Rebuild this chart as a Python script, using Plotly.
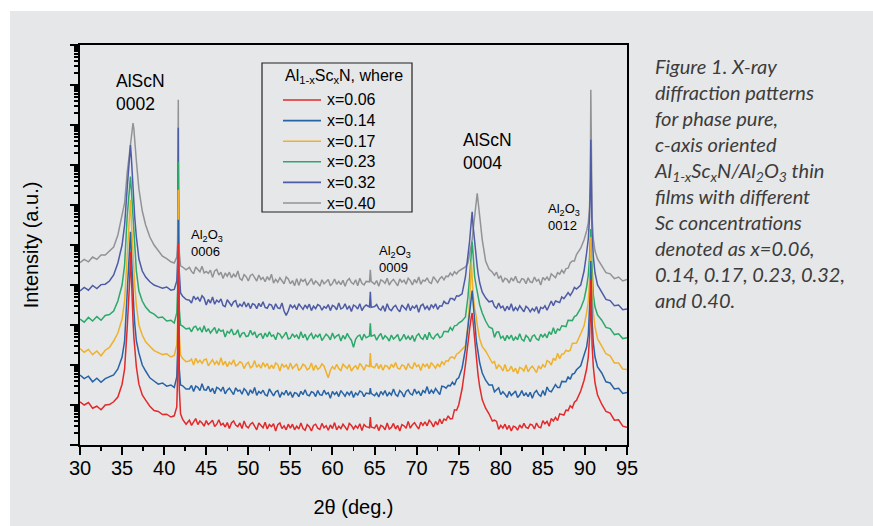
import numpy as np
import plotly.graph_objects as go

# 2-theta sampling positions (deg.)
two_theta = [
    30.0, 30.5, 31.0, 31.5, 32.0, 32.5, 33.0, 33.5,
    34.0, 34.5, 35.0, 35.3, 35.6, 35.8, 35.9, 36.0, 36.1, 36.2, 36.3, 36.4, 36.5, 36.7, 37.0, 37.4, 37.8, 38.3,
    38.8, 39.3, 39.8, 40.3, 40.8, 41.2,
    41.5, 41.6, 41.68, 41.72, 41.8, 41.95,
    42.2, 42.6,
    43.0, 43.25, 43.5, 43.75, 44.0, 44.25, 44.5, 44.75,
    45.0, 45.25, 45.5, 45.75, 46.0, 46.25, 46.5, 46.75,
    47.0, 47.25, 47.5, 47.75, 48.0, 48.25, 48.5, 48.75,
    49.0, 49.25, 49.5, 49.75, 50.0, 50.25, 50.5, 50.75,
    51.0, 51.25, 51.5, 51.75, 52.0, 52.25, 52.5, 52.75,
    53.0, 53.25, 53.5, 53.75, 54.0, 54.25, 54.5, 54.75,
    55.0, 55.25, 55.5, 55.75, 56.0, 56.25, 56.5, 56.75,
    57.0, 57.25, 57.5, 57.75, 58.0, 58.25, 58.5, 58.75,
    59.0, 59.25, 59.5, 59.75, 60.0, 60.25, 60.5, 60.75,
    61.0, 61.25, 61.5, 61.75, 62.0, 62.25, 62.5, 62.75,
    63.0, 63.25, 63.5, 63.75, 64.0,
    64.4, 64.5, 64.6,
    65.0, 65.25, 65.5, 65.75, 66.0, 66.25, 66.5, 66.75,
    67.0, 67.25, 67.5, 67.75, 68.0, 68.25, 68.5, 68.75,
    69.0, 69.25, 69.5, 69.75, 70.0, 70.25, 70.5, 70.75,
    71.0, 71.25, 71.5, 71.75, 72.0, 72.25, 72.5, 72.75,
    73.0, 73.25, 73.5, 73.75, 74.0, 74.25, 74.5, 74.75,
    75.0, 75.4, 75.8, 76.1, 76.3, 76.5, 76.6, 76.7, 76.9, 77.1, 77.2, 77.3, 77.5, 77.8, 78.2, 78.6,
    79.0, 79.25, 79.5, 79.75, 80.0, 80.25, 80.5, 80.75,
    81.0, 81.25, 81.5, 81.75, 82.0, 82.25, 82.5, 82.75,
    83.0, 83.25, 83.5, 83.75, 84.0, 84.25, 84.5, 84.75,
    85.0, 85.25, 85.5, 85.75, 86.0, 86.25, 86.5, 86.75,
    87.0, 87.25, 87.5, 87.75, 88.0, 88.25, 88.5, 88.75,
    89.0,
    89.5, 89.9, 90.2, 90.4, 90.55, 90.65, 90.7, 90.75, 90.85, 91.0, 91.2, 91.5,
    92.0, 92.5, 93.0, 93.5, 94.0, 94.5, 95.0,
]

# log10 of the (offset) intensity of each pattern
log_I_006 = [
    1.08, 1.00, 1.06, 0.92, 0.97, 0.88, 1.00, 1.01,
    1.08, 1.20, 1.52, 1.90, 2.90, 3.60, 4.10, 4.83, 4.10, 3.50, 3.10, 2.70, 2.40, 1.95, 1.52, 1.25, 1.12, 0.97,
    0.86, 0.84, 0.76, 0.77, 0.70, 0.73,
    0.95, 1.75, 5.03, 1.80, 1.40, 0.78,
    0.64, 0.52,
    0.62, 0.49, 0.59, 0.66, 0.51, 0.60, 0.55, 0.47,
    0.61, 0.51, 0.56, 0.62, 0.46, 0.52, 0.63, 0.50,
    0.54, 0.45, 0.56, 0.41, 0.55, 0.60, 0.50, 0.46,
    0.55, 0.41, 0.60, 0.47, 0.43, 0.52, 0.56, 0.46,
    0.38, 0.55, 0.49, 0.43, 0.57, 0.40, 0.51, 0.46,
    0.53, 0.35, 0.51, 0.55, 0.41, 0.48, 0.38, 0.52,
    0.42, 0.52, 0.38, 0.47, 0.40, 0.55, 0.41, 0.37,
    0.51, 0.46, 0.35, 0.49, 0.52, 0.42, 0.39, 0.54,
    0.43, 0.48, 0.37, 0.50, 0.41, 0.56, 0.38, 0.47,
    0.41, 0.52, 0.45, 0.37, 0.54, 0.49, 0.40, 0.48,
    0.42, 0.53, 0.36, 0.51, 0.46,
    0.43, 0.70, 0.45,
    0.42, 0.51, 0.36, 0.49, 0.46, 0.38, 0.55, 0.40,
    0.44, 0.54, 0.40, 0.49, 0.35, 0.51, 0.48, 0.42,
    0.59, 0.42, 0.51, 0.56, 0.47, 0.40, 0.57, 0.49,
    0.58, 0.48, 0.62, 0.56, 0.45, 0.59, 0.50, 0.65,
    0.53, 0.65, 0.62, 0.73, 0.65, 0.66, 0.88, 0.87,
    1.00, 1.40, 2.00, 2.60, 2.90, 3.20, 3.30, 3.10, 2.60, 2.15, 1.95, 1.75, 1.45, 1.13, 0.92, 0.78,
    0.60, 0.62, 0.59, 0.39, 0.49, 0.42, 0.52, 0.39,
    0.49, 0.35, 0.47, 0.45, 0.37, 0.50, 0.42, 0.54,
    0.44, 0.42, 0.52, 0.50, 0.40, 0.55, 0.45, 0.43,
    0.61, 0.53, 0.59, 0.47, 0.66, 0.60, 0.69, 0.61,
    0.78, 0.76, 0.75, 0.87, 0.86, 0.98, 0.93, 1.07,
    1.12,
    1.35, 1.62, 1.90, 2.20, 2.70, 3.30, 4.15, 3.20, 2.50, 1.95, 1.55, 1.25,
    1.02, 0.84, 0.80, 0.62, 0.63, 0.47, 0.44,
]

log_I_014 = [
    1.75, 1.66, 1.72, 1.58, 1.67, 1.57, 1.66, 1.70,
    1.75, 1.90, 2.20, 2.60, 3.80, 4.40, 4.80, 5.33, 4.80, 4.20, 3.80, 3.40, 3.05, 2.60, 2.30, 2.00, 1.85, 1.68,
    1.60, 1.52, 1.55, 1.47, 1.50, 1.44,
    1.70, 2.33, 5.63, 2.33, 1.90, 1.50,
    1.48, 1.40,
    1.40, 1.49, 1.34, 1.47, 1.44, 1.36, 1.53, 1.38,
    1.37, 1.47, 1.33, 1.42, 1.28, 1.44, 1.41, 1.35,
    1.45, 1.28, 1.37, 1.42, 1.33, 1.26, 1.43, 1.35,
    1.37, 1.27, 1.41, 1.35, 1.24, 1.38, 1.29, 1.44,
    1.24, 1.34, 1.29, 1.37, 1.26, 1.23, 1.40, 1.32,
    1.23, 1.33, 1.36, 1.19, 1.31, 1.26, 1.37, 1.24,
    1.33, 1.19, 1.31, 1.29, 1.21, 1.34, 1.26, 1.38,
    1.25, 1.23, 1.33, 1.31, 1.21, 1.36, 1.26, 1.24,
    1.37, 1.27, 1.31, 1.17, 1.34, 1.26, 1.32, 1.21,
    1.36, 1.29, 1.22, 1.33, 1.25, 1.35, 1.19, 1.30,
    1.25, 1.35, 1.32, 1.21, 1.30,
    1.28, 1.42, 1.29,
    1.23, 1.30, 1.20, 1.34, 1.26, 1.36, 1.22, 1.31,
    1.25, 1.40, 1.26, 1.22, 1.36, 1.31, 1.20, 1.34,
    1.38, 1.28, 1.25, 1.40, 1.29, 1.34, 1.23, 1.36,
    1.31, 1.46, 1.28, 1.37, 1.30, 1.41, 1.34, 1.26,
    1.47, 1.46, 1.42, 1.49, 1.48, 1.57, 1.50, 1.64,
    1.68, 1.92, 2.40, 2.95, 3.30, 3.75, 3.86, 3.60, 3.00, 2.60, 2.46, 2.30, 2.05, 1.80, 1.62, 1.50,
    1.50, 1.33, 1.39, 1.43, 1.26, 1.33, 1.27, 1.19,
    1.34, 1.24, 1.29, 1.35, 1.19, 1.25, 1.36, 1.23,
    1.30, 1.21, 1.32, 1.17, 1.31, 1.36, 1.26, 1.22,
    1.36, 1.24, 1.45, 1.35, 1.33, 1.44, 1.51, 1.44,
    1.44, 1.59, 1.58, 1.58, 1.71, 1.64, 1.77, 1.79,
    1.88,
    1.98, 2.25, 2.45, 2.75, 3.30, 3.90, 4.60, 3.80, 3.10, 2.55, 2.20, 1.95,
    1.80, 1.58, 1.55, 1.40, 1.42, 1.29, 1.31,
]

log_I_017 = [
    2.41, 2.32, 2.39, 2.26, 2.35, 2.23, 2.37, 2.44,
    2.60, 2.80, 3.15, 3.60, 4.70, 5.30, 5.70, 6.13, 5.60, 5.10, 4.75, 4.35, 4.00, 3.50, 3.00, 2.75, 2.58, 2.47,
    2.36, 2.31, 2.26, 2.28, 2.20, 2.24,
    2.50, 3.05, 6.38, 3.05, 2.60, 2.25,
    2.16, 2.08,
    2.10, 2.15, 2.00, 2.17, 2.06, 2.12, 2.04, 2.13,
    2.15, 1.98, 2.06, 2.13, 2.02, 2.09, 2.00, 2.18,
    2.00, 2.09, 1.96, 2.07, 2.02, 2.13, 1.98, 2.01,
    2.08, 2.05, 1.91, 2.02, 2.07, 1.93, 1.97, 2.11,
    1.94, 2.01, 1.92, 2.06, 1.96, 2.04, 1.90, 2.00,
    1.91, 2.05, 2.01, 1.85, 2.03, 1.95, 2.00, 1.89,
    2.05, 1.91, 1.97, 2.03, 1.86, 1.92, 2.02, 1.98,
    1.88, 1.92, 2.05, 1.86, 2.00, 1.89, 1.93, 2.03,
    1.97, 1.83, 1.68, 1.87, 1.96, 1.89, 2.02, 1.91,
    1.86, 2.02, 1.96, 1.91, 2.01, 1.85, 1.93, 1.98,
    1.89, 2.04, 1.97, 1.87, 2.00,
    1.96, 2.30, 1.97,
    1.93, 2.04, 1.91, 2.01, 1.87, 1.99, 1.97, 1.89,
    2.02, 1.94, 2.06, 1.92, 1.90, 2.00, 1.98, 1.88,
    2.04, 1.94, 1.92, 2.06, 1.96, 2.00, 1.86, 2.03,
    1.96, 2.02, 1.91, 2.06, 1.99, 1.92, 2.03, 1.95,
    2.09, 2.01, 2.11, 2.09, 2.19, 2.20, 2.16, 2.27,
    2.30, 2.38, 2.48, 3.00, 3.60, 4.58, 4.20, 3.80, 3.40, 3.20, 3.00, 2.85, 2.65, 2.46, 2.35, 2.20,
    2.05, 2.09, 1.90, 2.00, 1.95, 1.85, 2.01, 1.85,
    1.87, 1.97, 1.83, 1.92, 1.78, 1.94, 1.91, 1.85,
    2.00, 1.83, 1.92, 1.97, 1.88, 1.81, 1.98, 1.90,
    2.01, 1.94, 2.11, 2.08, 2.00, 2.17, 2.11, 2.29,
    2.16, 2.27, 2.28, 2.37, 2.34, 2.37, 2.54, 2.54,
    2.55,
    2.78, 2.98, 3.30, 3.60, 4.10, 4.60, 5.20, 4.55, 3.90, 3.30, 2.95, 2.65,
    2.47, 2.28, 2.23, 2.05, 2.05, 1.90, 1.89,
]

log_I_023 = [
    3.15, 3.07, 3.19, 3.10, 3.21, 3.12, 3.24, 3.26,
    3.35, 3.60, 4.00, 4.50, 5.70, 6.20, 6.45, 6.71, 6.40, 6.00, 5.65, 5.25, 4.90, 4.35, 3.85, 3.60, 3.45, 3.33,
    3.27, 3.18, 3.20, 3.10, 3.12, 3.05,
    3.30, 3.88, 7.08, 3.88, 3.40, 3.00,
    2.97, 2.90,
    2.92, 2.83, 2.94, 2.97, 2.87, 2.93, 2.82, 2.98,
    2.83, 2.91, 2.80, 2.87, 2.94, 2.79, 2.90, 2.84,
    2.87, 2.70, 2.84, 2.80, 2.90, 2.76, 2.78, 2.88,
    2.69, 2.79, 2.81, 2.71, 2.73, 2.87, 2.75, 2.83,
    2.68, 2.76, 2.78, 2.66, 2.80, 2.70, 2.83, 2.72,
    2.75, 2.63, 2.80, 2.77, 2.67, 2.74, 2.82, 2.65,
    2.67, 2.78, 2.70, 2.75, 2.65, 2.83, 2.68, 2.77,
    2.62, 2.73, 2.79, 2.65, 2.75, 2.70, 2.78, 2.61,
    2.68, 2.77, 2.72, 2.63, 2.80, 2.67, 2.73, 2.76,
    2.60, 2.74, 2.65, 2.79, 2.69, 2.62, 2.44, 2.64,
    2.72, 2.75, 2.62, 2.77, 2.68,
    2.73, 3.04, 2.72,
    2.75, 2.62, 2.72, 2.79, 2.64, 2.73, 2.68, 2.60,
    2.75, 2.65, 2.70, 2.76, 2.60, 2.66, 2.77, 2.64,
    2.72, 2.63, 2.74, 2.59, 2.73, 2.78, 2.68, 2.64,
    2.77, 2.63, 2.82, 2.69, 2.65, 2.74, 2.78, 2.68,
    2.71, 2.84, 2.84, 2.83, 2.94, 2.87, 2.98, 2.99,
    3.05, 3.10, 3.20, 3.70, 4.20, 4.90, 5.08, 4.80, 4.20, 3.95, 3.85, 3.70, 3.50, 3.30, 3.10, 2.95,
    2.91, 2.69, 2.82, 2.83, 2.67, 2.72, 2.61, 2.74,
    2.65, 2.75, 2.61, 2.70, 2.63, 2.78, 2.64, 2.60,
    2.74, 2.69, 2.58, 2.72, 2.75, 2.65, 2.62, 2.77,
    2.70, 2.77, 2.68, 2.83, 2.76, 2.93, 2.78, 2.90,
    2.87, 2.98, 2.97, 2.96, 3.12, 3.12, 3.11, 3.21,
    3.24,
    3.42, 3.64, 3.95, 4.25, 4.70, 5.05, 5.40, 4.90, 4.35, 3.75, 3.45, 3.25,
    3.12, 2.94, 2.91, 2.76, 2.78, 2.66, 2.68,
]

log_I_032 = [
    3.85, 3.94, 3.87, 3.99, 3.91, 4.01, 4.02, 4.10,
    4.25, 4.55, 5.00, 5.50, 6.40, 6.95, 7.20, 7.50, 7.20, 6.80, 6.40, 6.05, 5.70, 5.20, 4.65, 4.35, 4.20, 4.08,
    4.00, 3.96, 3.92, 3.95, 3.87, 3.89,
    4.10, 4.60, 7.93, 4.60, 4.15, 3.80,
    3.72, 3.64,
    3.62, 3.55, 3.72, 3.64, 3.69, 3.59, 3.73, 3.67,
    3.50, 3.64, 3.55, 3.70, 3.52, 3.62, 3.57, 3.65,
    3.49, 3.46, 3.63, 3.55, 3.48, 3.58, 3.61, 3.44,
    3.52, 3.47, 3.58, 3.45, 3.55, 3.41, 3.53, 3.51,
    3.41, 3.54, 3.46, 3.58, 3.44, 3.42, 3.52, 3.50,
    3.38, 3.53, 3.43, 3.41, 3.55, 3.35, 3.24, 3.35,
    3.51, 3.43, 3.49, 3.38, 3.53, 3.46, 3.39, 3.50,
    3.42, 3.52, 3.36, 3.47, 3.41, 3.51, 3.48, 3.37,
    3.46, 3.42, 3.51, 3.36, 3.49, 3.46, 3.38, 3.55,
    3.40, 3.43, 3.53, 3.39, 3.48, 3.34, 3.50, 3.47,
    3.40, 3.53, 3.36, 3.45, 3.50,
    3.45, 3.83, 3.44,
    3.46, 3.51, 3.41, 3.37, 3.48, 3.34, 3.53, 3.40,
    3.36, 3.45, 3.49, 3.39, 3.33, 3.50, 3.44, 3.38,
    3.53, 3.36, 3.47, 3.42, 3.50, 3.32, 3.48, 3.52,
    3.40, 3.47, 3.37, 3.51, 3.43, 3.53, 3.39, 3.48,
    3.47, 3.59, 3.54, 3.54, 3.66, 3.66, 3.62, 3.73,
    3.72, 3.78, 4.20, 4.70, 5.10, 5.60, 5.83, 5.50, 5.00, 4.65, 4.46, 4.30, 4.05, 3.82, 3.68, 3.58,
    3.60, 3.47, 3.42, 3.55, 3.43, 3.47, 3.35, 3.47,
    3.38, 3.53, 3.35, 3.44, 3.37, 3.48, 3.41, 3.33,
    3.47, 3.42, 3.33, 3.41, 3.35, 3.46, 3.29, 3.44,
    3.41, 3.48, 3.37, 3.50, 3.60, 3.48, 3.60, 3.58,
    3.56, 3.70, 3.66, 3.73, 3.81, 3.74, 3.82, 3.94,
    3.90,
    4.00, 4.35, 4.80, 5.15, 5.70, 6.50, 7.63, 6.30, 5.30, 4.70, 4.30, 4.00,
    3.82, 3.64, 3.61, 3.48, 3.50, 3.38, 3.40,
]

log_I_040 = [
    4.56, 4.64, 4.58, 4.70, 4.64, 4.75, 4.75, 4.84,
    4.95, 5.25, 5.70, 6.05, 6.80, 7.20, 7.40, 7.60, 7.80, 7.95, 8.05, 7.90, 7.60, 7.10, 6.40, 5.85, 5.50, 5.20,
    5.00, 4.85, 4.72, 4.66, 4.58, 4.55,
    4.70, 5.00, 8.63, 5.00, 4.75, 4.48,
    4.45, 4.38,
    4.44, 4.34, 4.28, 4.45, 4.39, 4.33, 4.47, 4.30,
    4.34, 4.29, 4.37, 4.19, 4.35, 4.39, 4.25, 4.32,
    4.16, 4.30, 4.22, 4.32, 4.18, 4.27, 4.20, 4.35,
    4.16, 4.12, 4.26, 4.21, 4.10, 4.24, 4.27, 4.17,
    4.10, 4.25, 4.14, 4.19, 4.08, 4.21, 4.12, 4.27,
    4.05, 4.14, 4.07, 4.18, 4.11, 4.03, 4.20, 4.15,
    4.03, 4.11, 3.98, 4.16, 3.99, 4.14, 4.09, 4.14,
    3.99, 4.09, 4.16, 4.01, 4.10, 4.05, 3.97, 4.13,
    4.03, 4.08, 4.14, 3.98, 4.04, 4.15, 4.02, 4.09,
    4.01, 4.12, 3.97, 4.11, 4.16, 4.06, 4.02, 4.13,
    3.98, 4.17, 4.04, 4.00, 4.09,
    4.08, 4.38, 4.09,
    4.02, 4.11, 3.97, 4.13, 4.10, 4.04, 4.17, 4.00,
    4.09, 4.14, 4.05, 3.98, 4.15, 4.07, 4.12, 4.02,
    4.17, 4.11, 4.00, 4.14, 4.05, 4.20, 4.02, 4.12,
    4.10, 4.18, 4.07, 4.04, 4.21, 4.13, 4.06, 4.16,
    4.21, 4.13, 4.22, 4.21, 4.30, 4.24, 4.33, 4.28,
    4.35, 4.40, 4.45, 4.55, 4.75, 5.00, 5.13, 5.35, 5.80, 6.15, 6.29, 6.10, 5.70, 5.13, 4.60, 4.40,
    4.32, 4.24, 4.32, 4.16, 4.23, 4.07, 4.17, 4.14,
    4.05, 4.18, 4.10, 4.22, 4.08, 4.06, 4.16, 4.14,
    4.03, 4.18, 4.08, 4.06, 4.20, 4.10, 4.14, 4.00,
    4.19, 4.13, 4.20, 4.11, 4.28, 4.23, 4.18, 4.31,
    4.27, 4.37, 4.30, 4.41, 4.42, 4.55, 4.60, 4.60,
    4.76,
    4.92, 5.13, 5.35, 5.55, 5.96, 6.80, 8.88, 6.50, 5.70, 5.15, 4.85, 4.65,
    4.47, 4.31, 4.28, 4.16, 4.20, 4.10, 4.14,
]

labels = ["x=0.06", "x=0.14", "x=0.17", "x=0.23", "x=0.32", "x=0.40"]
colors = ["#e2292b", "#2763a5", "#efb12c", "#2ba86a", "#4e5ba6", "#929396"]
all_logs = [log_I_006, log_I_014, log_I_017, log_I_023, log_I_032, log_I_040]

for lab, arr in zip(labels, all_logs):
    if len(arr) != len(two_theta):
        raise ValueError(f"{lab}: {len(arr)} values vs {len(two_theta)} angles")

BG = "#e6e7e8"
FONT = "Liberation Sans, Arial, sans-serif"
fig = go.Figure()
# draw x=0.40 first so that x=0.06 ends up on top
for lab, arr, col in reversed(list(zip(labels, all_logs, colors))):
    fig.add_trace(go.Scatter(
        x=two_theta, y=10 ** np.array(arr), mode="lines", name=lab,
        line=dict(color=col, width=1.5), showlegend=False,
    ))

axis_font = dict(family=FONT, size=20, color="black")
# plot area at x 80..627, y 45..445 of the page (body margin removed below)
fig.update_layout(
    width=873, height=526,
    margin=dict(l=80, r=246, t=45, b=81),
    paper_bgcolor=BG, plot_bgcolor=BG,
    font=dict(family=FONT, color="black"),
    showlegend=False,
    xaxis=dict(
        range=[30, 95], dtick=5, tick0=30, ticks="outside", ticklen=8, tickwidth=2,
        tickcolor="black", showline=True, linecolor="black", linewidth=2, mirror=True,
        showgrid=False, zeroline=False, tickfont=axis_font, ticklabelstandoff=-4,
        minor=dict(ticks="outside", ticklen=4, tickwidth=1.5, tickcolor="black", dtick=2.5, showgrid=False),
        title=dict(text="2θ (deg.)", font=axis_font, standoff=22),
    ),
    yaxis=dict(
        type="log", range=[0, 10], dtick=1, ticks="outside", ticklen=8, tickwidth=2,
        tickcolor="black", showline=True, linecolor="black", linewidth=2, mirror=True,
        showgrid=False, zeroline=False, showticklabels=False,
        minor=dict(ticks="outside", ticklen=4, tickwidth=1.5, tickcolor="black", dtick="D1", showgrid=False),
        title=dict(text="Intensity (a.u.)", font=axis_font, standoff=26),
    ),
)

W, H = 547.0, 400.0
def px_x(p):
    return (p - 80) / W
def px_y(p):
    return (445 - p) / H

# legend: frame, title, sample lines and labels; white page border top/left
legend_left, legend_right, legend_top, legend_bottom = 262, 412, 63, 212
shapes = [
    dict(type="rect", xref="paper", yref="paper", x0=px_x(legend_left), x1=px_x(legend_right),
         y0=px_y(legend_bottom), y1=px_y(legend_top), line=dict(color="#222222", width=1.2),
         fillcolor="rgba(0,0,0,0)"),
    dict(type="rect", xref="paper", yref="paper", x0=px_x(-2), x1=px_x(10), y0=px_y(540), y1=px_y(-2),
         line=dict(width=0), fillcolor="white", layer="below"),
    dict(type="rect", xref="paper", yref="paper", x0=px_x(-2), x1=px_x(890), y0=px_y(11), y1=px_y(-2),
         line=dict(width=0), fillcolor="white", layer="below"),
]
annotations = [
    dict(x=px_x(283), y=px_y(77), xref="paper", yref="paper", xanchor="left", yanchor="middle",
         text="Al<sub>1-x</sub>Sc<sub>x</sub>N, where", showarrow=False,
         font=dict(family=FONT, size=16, color="black")),
]
for i, (lab, col) in enumerate(zip(labels, colors)):
    yy = 100 + 20.6 * i
    shapes.append(dict(type="line", xref="paper", yref="paper", x0=px_x(283), x1=px_x(321),
                       y0=px_y(yy), y1=px_y(yy), line=dict(color=col, width=1.6)))
    annotations.append(dict(x=px_x(325), y=px_y(yy), xref="paper", yref="paper", xanchor="left",
                            yanchor="middle", text=lab, showarrow=False,
                            font=dict(family=FONT, size=16, color="black")))

ann_font = dict(family=FONT, size=17.5, color="black")
small_font = dict(family=FONT, size=13, color="black")
peak_labels = [
    ("AlScN<br>0002", 34.0, 9.40, ann_font),
    ("Al<sub>2</sub>O<sub>3</sub><br>0006", 42.95, 5.50, small_font),
    ("Al<sub>2</sub>O<sub>3</sub><br>0009", 65.3, 5.10, small_font),
    ("AlScN<br>0004", 75.25, 7.93, ann_font),
    ("Al<sub>2</sub>O<sub>3</sub><br>0012", 85.35, 6.15, small_font),
]
for txt, xv, yv, f in peak_labels:
    annotations.append(dict(x=xv, y=yv, xref="x", yref="y", text=txt, showarrow=False,
                            xanchor="left", yanchor="top", align="left", font=f))

caption = ("Figure 1. X-ray<br>diffraction patterns<br>for phase pure,<br>c-axis oriented<br>"
           "Al<sub>1-x</sub>Sc<sub>x</sub>N/Al<sub>2</sub>O<sub>3</sub> thin<br>films with different<br>"
           "Sc concentrations<br>denoted as x=0.06,<br>0.14, 0.17, 0.23, 0.32,<br>and 0.40.")
annotations.append(dict(x=px_x(652), y=px_y(52), xref="paper", yref="paper", text="<i>" + caption + "</i>",
                        showarrow=False, xanchor="left", yanchor="top", align="left",
                        font=dict(family="Lato, Open Sans, sans-serif", size=20, color="#3c3c3c")))

fig.update_layout(shapes=shapes, annotations=annotations)
fig.write_html("out.html",
               config={"displayModeBar": False, "staticPlot": True},
               post_script="document.body.style.margin='0';document.body.style.overflow='hidden';")
